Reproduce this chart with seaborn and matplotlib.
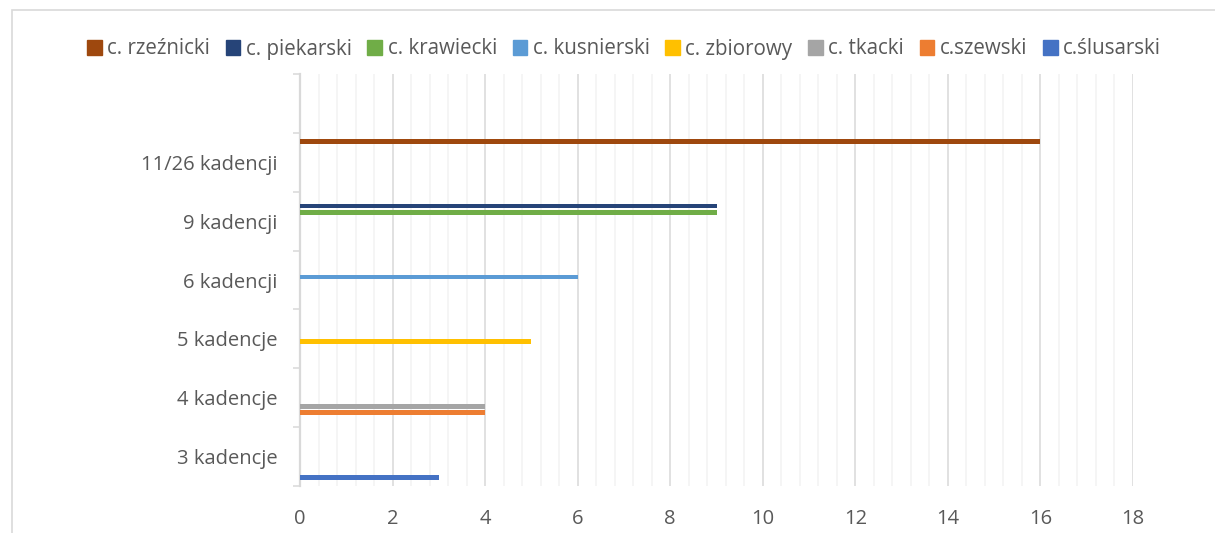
import pandas as pd
import numpy as np
import seaborn as sns
import matplotlib.pyplot as plt
from matplotlib.patches import Rectangle
from matplotlib.ticker import MultipleLocator

# categories, top to bottom (the first one is an empty slot, as in the original sheet)
categories = ["", "11/26 kadencji", "9 kadencji", "6 kadencji", "5 kadencje", "4 kadencje", "3 kadencje"]
series = ["c. rzeźnicki", "c. piekarski", "c. krawiecki", "c. kusnierski",
          "c. zbiorowy", "c. tkacki", "c.szewski", "c.ślusarski"]
series_category = ["11/26 kadencji", "9 kadencji", "9 kadencji", "6 kadencji",
                   "5 kadencje", "4 kadencje", "4 kadencje", "3 kadencje"]
series_value = [16, 9, 9, 6, 5, 4, 4, 3]
colors = ["#9E480E", "#264478", "#70AD47", "#5B9BD5", "#FFC000", "#A5A5A5", "#ED7D31", "#4472C4"]

rows = []
for cat in categories:
    for s, c, v in zip(series, series_category, series_value):
        rows.append({"kadencje": cat, "cech": s, "n": v if c == cat else 0})
df = pd.DataFrame(rows)

sns.set_style("white")
plt.rcParams['font.family'] = ['Open Sans', 'DejaVu Sans']
txt = '#595959'
grid_major = '#d9d9d9'
grid_minor = '#f2f2f2'

fig = plt.figure(figsize=(12.15, 5.33), dpi=100)
ax = fig.add_axes([300/1215, 1-485.7/533, (1133-300)/1215, (485.7-74.3)/533])

sns.barplot(data=df, x="n", y="kadencje", hue="cech", order=categories, hue_order=series,
            palette=colors, saturation=1, orient="h", width=0.83, gap=0.2, errorbar=None,
            linewidth=0, ax=ax, zorder=3)

ax.set_xlim(0, 18)
ax.xaxis.set_major_locator(MultipleLocator(2))
ax.xaxis.set_minor_locator(MultipleLocator(0.4))
ax.grid(which='major', axis='x', color=grid_major, lw=1.1, zorder=0)
ax.grid(which='minor', axis='x', color=grid_minor, lw=1.1, zorder=0)
ax.set_axisbelow(True)

ax.set_yticks(np.arange(-0.5, len(categories)), minor=True)
ax.tick_params(axis='y', which='major', length=0, pad=16, labelsize=14.5, labelcolor=txt)
ax.tick_params(axis='y', which='minor', length=5, width=1.1, color=grid_major, left=True)
ax.tick_params(axis='x', which='both', length=0, pad=17, labelsize=14.5, labelcolor=txt)
ax.set_xlabel("")
ax.set_ylabel("")

for side in ['top', 'right', 'bottom']:
    ax.spines[side].set_visible(False)
ax.spines['left'].set_color(grid_major)
ax.spines['left'].set_linewidth(1.6)

ax.legend_.remove()
handles = [plt.Rectangle((0, 0), 1, 1, color=c) for c in colors]
fig.legend(handles, series, loc='center', bbox_to_anchor=(0.5136, 1-49/533), ncol=8,
           frameon=False, fontsize=14.8, labelcolor=txt, handlelength=0.72, handleheight=0.72,
           handletextpad=0.26, columnspacing=0.76, borderpad=0, borderaxespad=0)

# chart border like the spreadsheet frame
fig.add_artist(Rectangle((12/1215, -0.1), 1.2, 1.1-10/533, transform=fig.transFigure,
                         fill=False, edgecolor=grid_major, lw=1.2, clip_on=False))

fig.savefig("out.png", dpi=100)
